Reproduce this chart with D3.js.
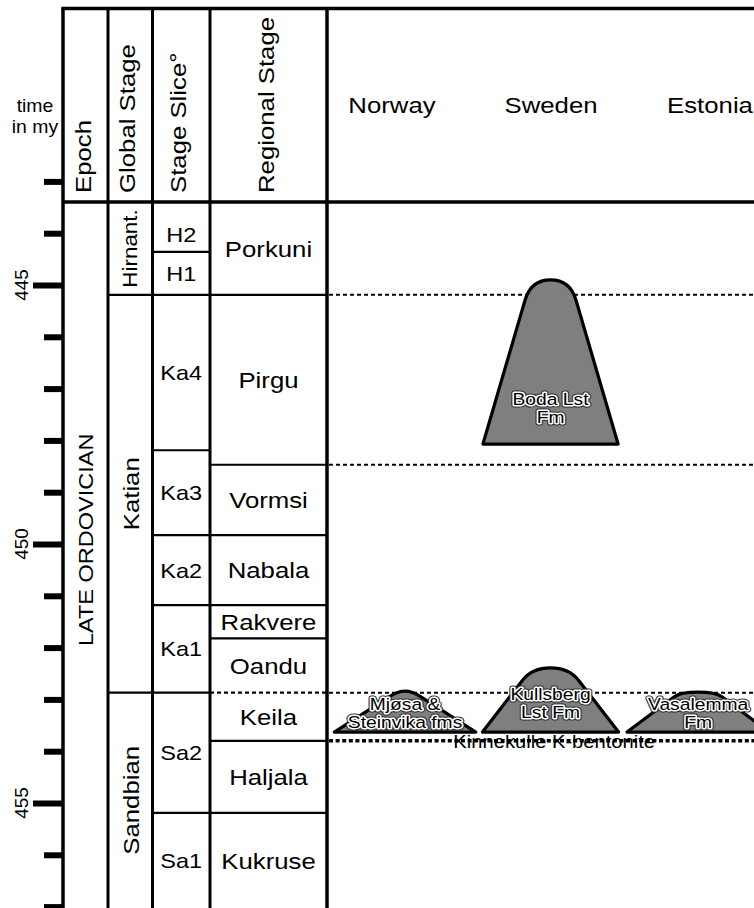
<!DOCTYPE html>
<html><head><meta charset="utf-8">
<script src="https://cdn.jsdelivr.net/npm/d3@7"></script>
<style>
html,body{margin:0;padding:0;background:#fff;}
svg{display:block;font-family:"Liberation Sans",Arial,Helvetica,sans-serif;}
</style></head><body>
<svg id="chart" width="754" height="908"></svg>
<script>
// ---------------- data ----------------
const tickValues = [443,444,445,446,447,448,449,450,451,452,453,454,455,456,457];
const tickLabels = [445,450,455];
const columnHeaders = ["Epoch","Global Stage","Stage Slice°","Regional Stage"];
const countries = ["Norway","Sweden","Estonia"];

const epochs = [
  {name:"LATE ORDOVICIAN", top:443.4, base:457.3, labelAt:449.92}
];
const globalStages = [
  {name:"Hirnant.", top:443.4,  base:445.19, size:20},
  {name:"Katian",   top:445.19, base:452.87},
  {name:"Sandbian", top:452.87, base:457.3}
];
const stageSlices = [
  {name:"H2",  top:443.4,  base:444.36, labelAt:444.03},
  {name:"H1",  top:444.36, base:445.19},
  {name:"Ka4", top:445.19, base:448.19},
  {name:"Ka3", top:448.19, base:449.83},
  {name:"Ka2", top:449.83, base:451.18},
  {name:"Ka1", top:451.18, base:452.87},
  {name:"Sa2", top:452.87, base:455.19},
  {name:"Sa1", top:455.19, base:457.3}
];
const regionalStages = [
  {name:"Porkuni", top:443.4,  base:445.19},
  {name:"Pirgu",   top:445.19, base:448.47},
  {name:"Vormsi",  top:448.47, base:449.83},
  {name:"Nabala",  top:449.83, base:451.18},
  {name:"Rakvere", top:451.18, base:451.82},
  {name:"Oandu",   top:451.82, base:452.87},
  {name:"Keila",   top:452.87, base:453.80, uncertainTop:true},
  {name:"Haljala", top:453.80, base:455.19},
  {name:"Kukruse", top:455.19, base:457.3}
];
// correlation lines across the country columns
const correlationLines = [
  {t:445.19, kind:"dashed"},
  {t:448.47, kind:"dashed"},
  {t:452.87, kind:"dashed"},
  {t:453.80, kind:"bentonite", label:"Kinnekulle K-bentonite"}
];
// carbonate buildups (lateral units: 1 = spacing between country columns)
const buildups = [
  {name:["Boda Lst","Fm"],              pos:0.997, base:448.07, shoulder:445.29, top:444.90, baseHalf:0.425, topHalf:0.160, labelAt:447.32},
  {name:["Mjøsa &","Steinvika fms"],    pos:0.082, base:453.63, shoulder:452.95, top:452.84, baseHalf:0.445, topHalf:0.100, labelAt:453.20},
  {name:["Kullsberg","Lst Fm"],         pos:0.997, base:453.63, shoulder:452.63, top:452.39, baseHalf:0.428, topHalf:0.176, labelAt:453.01},
  {name:["Vasalemma","Fm"],             pos:1.925, base:453.63, shoulder:452.95, top:452.86, baseHalf:0.447, topHalf:0.150, labelAt:453.20}
];

// ---------------- layout ----------------
const W = 754, H = 908;
const colX = [63, 108, 152.5, 210, 327];
const frameTop = 8.5;
const K = 1.12; // horizontal stretch of the lettering

const svg = d3.select("#chart");
const y = d3.scaleLinear().domain([445,455]).range([285,803]);
const xLat = d3.scaleLinear().domain([0,2]).range([392,710]);
const unit = xLat(1) - xLat(0);
const headerBottom = y(443.4);
const yMax = H;

svg.append("rect").attr("width",W).attr("height",H).attr("fill","#fff");

function hText(g, x, yy, str, size, k = K, anchor = "middle") {
  return g.append("text")
    .attr("transform", `translate(${x},${yy}) scale(${k},1)`)
    .attr("text-anchor", anchor).attr("font-size", size).attr("fill","#000").text(str);
}
function vText(g, x, yy, str, size, k = K, anchor = "middle") {
  return g.append("text")
    .attr("transform", `translate(${x},${yy}) rotate(-90) scale(${k},1)`)
    .attr("text-anchor", anchor).attr("font-size", size).attr("fill","#000").text(str);
}

// ---------- correlation lines ----------
const gCorr = svg.append("g");
correlationLines.forEach(c => {
  gCorr.append("line")
    .attr("x1", colX[4] + 2).attr("x2", W)
    .attr("y1", y(c.t)).attr("y2", y(c.t))
    .attr("stroke", "#000")
    .attr("stroke-width", c.kind === "bentonite" ? 3.5 : 2)
    .attr("stroke-dasharray", c.kind === "bentonite" ? "4,2.6" : "4,3");
});

// ---------- buildups ----------
const gMound = svg.append("g");
function moundPath(d) {
  const cx = xLat(d.pos);
  const xL = cx - d.baseHalf * unit, xR = cx + d.baseHalf * unit;
  const x1 = cx - d.topHalf * unit, x2 = cx + d.topHalf * unit;
  const yB = y(d.base), y1 = y(d.shoulder), yT = y(d.top);
  const s = (yT - y1) / (y1 - yB);
  const c1 = Math.min(x1 + s * (x1 - xL), cx);
  const c2 = Math.max(x2 - s * (xR - x2), cx);
  const p = d3.path();
  p.moveTo(xL, yB);
  p.lineTo(x1, y1);
  p.quadraticCurveTo(c1, yT, cx, yT);
  p.quadraticCurveTo(c2, yT, x2, y1);
  p.lineTo(xR, yB);
  p.closePath();
  return p.toString();
}
gMound.selectAll("path").data(buildups).join("path")
  .attr("d", moundPath)
  .attr("fill", "#7f7f7f")
  .attr("stroke", "#000")
  .attr("stroke-width", 3.2)
  .attr("stroke-linejoin", "round");

buildups.forEach(d => {
  d.name.forEach((line, i) => {
    const yy = y(d.labelAt) + i * 18;
    const x = xLat(d.pos);
    hText(gMound, x, yy, line, 17.2).attr("fill","none").attr("stroke","#2a2a2a").attr("stroke-width",5).attr("stroke-linejoin","round");
    hText(gMound, x, yy, line, 17.2).attr("fill","none").attr("stroke","#fff").attr("stroke-width",3).attr("stroke-linejoin","round");
    hText(gMound, x, yy, line, 17.2);
  });
});

// bentonite label
correlationLines.filter(c => c.label).forEach(c => {
  hText(svg, xLat(1.02), y(c.t) + 7, c.label, 18);
});

// ---------- table ----------
const gTab = svg.append("g");
function column(data, ci, opts) {
  const x0 = colX[ci], x1 = colX[ci + 1];
  const cxm = (x0 + x1) / 2;
  data.forEach((d, i) => {
    if (i > 0) {
      gTab.append("line").attr("x1", x0).attr("x2", x1)
        .attr("y1", y(d.top)).attr("y2", y(d.top))
        .attr("stroke", "#000").attr("stroke-width", 2.2)
        .attr("stroke-dasharray", d.uncertainTop ? "4,3" : null);
    }
    const yt = y(d.top), yb = Math.min(y(d.base), yMax);
    const yc = d.labelAt !== undefined ? y(d.labelAt) : (yt + yb) / 2;
    const fs = d.size || opts.size;
    if (opts.vertical) vText(gTab, cxm + 0.36 * fs, yc, d.name, fs);
    else hText(gTab, cxm, yc + 0.36 * fs, d.name, fs);
  });
}
column(epochs, 0, {vertical:true, size:21});
column(globalStages, 1, {vertical:true, size:23});
column(stageSlices, 2, {vertical:false, size:21});
column(regionalStages, 3, {vertical:false, size:23});

// frame lines
gTab.append("line").attr("x1", colX[0] - 1.75).attr("x2", W).attr("y1", frameTop).attr("y2", frameTop)
  .attr("stroke","#000").attr("stroke-width",3.5);
gTab.append("line").attr("x1", colX[0]).attr("x2", W).attr("y1", headerBottom).attr("y2", headerBottom)
  .attr("stroke","#000").attr("stroke-width",3.5);
const vW = [3.5, 3, 3, 3, 3.5];
colX.forEach((x, i) => {
  gTab.append("line").attr("x1", x).attr("x2", x).attr("y1", frameTop).attr("y2", H)
    .attr("stroke","#000").attr("stroke-width", vW[i]);
});

// column headers
columnHeaders.forEach((h, i) => {
  const cxm = (colX[i] + colX[i + 1]) / 2;
  vText(gTab, cxm + 5, 193, h, 23, K, "start");
});
countries.forEach((c, i) => hText(gTab, xLat(i), 113, c, 23));

// ---------- time axis ----------
const axis = d3.axisLeft(y).tickValues(tickValues).tickSize(19).tickFormat("");
const gAx = svg.append("g").attr("transform", `translate(${colX[0]},0)`).call(axis);
gAx.select(".domain").remove();
gAx.selectAll(".tick line")
  .attr("stroke", "#000").attr("stroke-width", 6)
  .attr("x2", d => tickLabels.includes(d) ? -30 : -19);
tickLabels.forEach(t => {
  gAx.append("text")
    .attr("transform", `translate(-35,${y(t)}) rotate(-90)`)
    .attr("text-anchor","middle").attr("font-size",19).attr("fill","#000")
    .text(String(t));
});
hText(svg, 35, 112, "time", 18, 1.08);
hText(svg, 35, 133, "in my", 18, 1.08);
</script>
</body></html>
